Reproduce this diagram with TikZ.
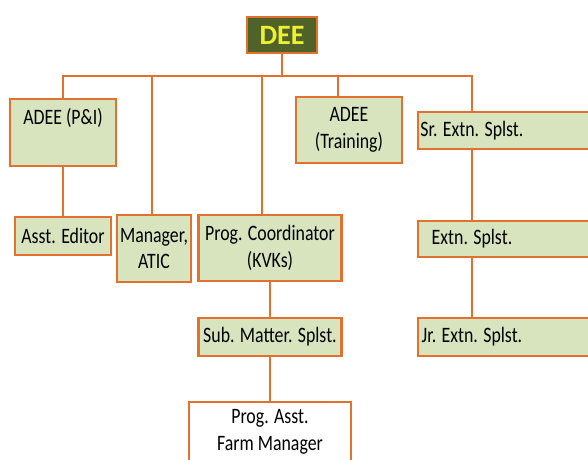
\documentclass[tikz,border=0pt]{standalone}
\usepackage{fontspec}
\setmainfont{Carlito}[FakeStretch=0.81]
\newfontfamily\headfont{Carlito}
\usetikzlibrary{positioning}
\definecolor{boxfill}{HTML}{D7E4BD}
\definecolor{boxline}{HTML}{E2702E}
\definecolor{headfill}{HTML}{4F6228}
\definecolor{headtext}{HTML}{F0F030}

\begin{document}
\begin{tikzpicture}[x=1pt, y=-1pt, font=\fontsize{22}{26.5}\selectfont]
    \tikzstyle{box} = [rectangle, draw=boxline, line width=2.2pt, fill=boxfill, text centered, align=center, inner sep=2pt]
    \tikzstyle{link} = [draw=boxline, line width=2pt]

    \useasboundingbox (0,0) rectangle (588,459);
    \clip (0,0) rectangle (588,459);

    % top
    \node [box, fill=headfill, text=headtext, minimum width=70, minimum height=36, font=\headfont\bfseries\fontsize{28}{30}\selectfont] (dee) at (282,35) {DEE};
    \coordinate (bar) at (282,76);

    % first row
    \node [box, minimum width=106, minimum height=67] (adeepi) at (63,132.5) {ADEE (P\&I)\\[6pt]\mbox{}};
    \node [box, minimum width=106, minimum height=66] (adeetr) at (349,130) {ADEE\\(Training)};
    \node [box, minimum width=174, minimum height=37] (srext) at (505,130.5) {\makebox[104pt]{Sr. Extn. Splst.}\hspace{66pt}};

    % second row
    \node [box, minimum width=96, minimum height=38] (editor) at (63,236) {Asst. Editor};
    \node [box, minimum width=74, minimum height=67] (atic) at (154,248.5) {Manager,\\ATIC};
    \node [box, minimum width=143, minimum height=66] (progco) at (270,248) {Prog. Coordinator\\(KVKs)};
    \node [box, minimum width=174, minimum height=36] (extn) at (505,239) {\makebox[104pt]{Extn. Splst.}\hspace{66pt}};

    % third row
    \node [box, minimum width=143, minimum height=38] (sms) at (270,337) {Sub. Matter. Splst.};
    \node [box, minimum width=174, minimum height=38] (jrext) at (505,337) {\makebox[104pt]{Jr. Extn. Splst.}\hspace{66pt}};

    % bottom
    \node [box, fill=white, minimum width=162, inner ysep=7pt, anchor=north] (progasst) at (270,401) {Prog. Asst.\\[1pt]Farm Manager\\\mbox{}};

    % connectors
    \draw [link] (dee.south) -- (bar);
    \draw [link] (adeepi.north) |- (bar) -| ([xshift=-33]srext.north);
    \draw [link] ([xshift=-2]atic.north) |- (bar);
    \draw [link] ([xshift=-8]progco.north) |- (bar);
    \draw [link] ([xshift=-11]adeetr.north) |- (bar);
    \draw [link] (adeepi) -- (editor);
    \draw [link] (progco) -- (sms);
    \draw [link] (sms) -- (progasst);
    \draw [link] ([xshift=-33]srext.south) -- ([xshift=-33]extn.north);
    \draw [link] ([xshift=-33]extn.south) -- ([xshift=-33]jrext.north);
\end{tikzpicture}
\end{document}
